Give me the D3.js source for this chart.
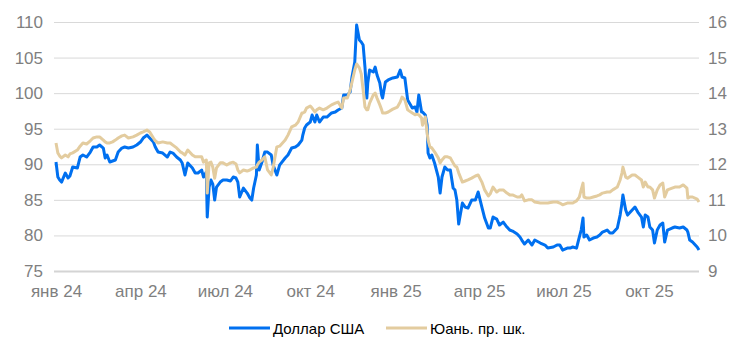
<!DOCTYPE html>
<html><head><meta charset="utf-8">
<script src="https://cdn.jsdelivr.net/npm/d3@7"></script>
<style>
html,body{margin:0;padding:0;background:#fff;}
svg{display:block;font-family:"Liberation Sans",Arial,sans-serif;}
</style></head>
<body><svg id="c" width="746" height="355"></svg>
<script>
const dates = ["2024-01-01","2024-01-03","2024-01-05","2024-01-07","2024-01-11","2024-01-14","2024-01-16","2024-01-19","2024-01-24","2024-01-27","2024-01-30","2024-02-03","2024-02-07","2024-02-10","2024-02-14","2024-02-17","2024-02-21","2024-02-23","2024-02-25","2024-02-28","2024-03-02","2024-03-05","2024-03-08","2024-03-12","2024-03-15","2024-03-19","2024-03-24","2024-03-28","2024-04-01","2024-04-04","2024-04-08","2024-04-11","2024-04-15","2024-04-17","2024-04-20","2024-04-25","2024-04-30","2024-05-03","2024-05-06","2024-05-10","2024-05-14","2024-05-16","2024-05-19","2024-05-22","2024-05-27","2024-05-30","2024-06-02","2024-06-06","2024-06-08","2024-06-11","2024-06-12","2024-06-14","2024-06-16","2024-06-18","2024-06-20","2024-06-22","2024-06-26","2024-06-29","2024-07-03","2024-07-07","2024-07-10","2024-07-13","2024-07-15","2024-07-17","2024-07-21","2024-07-25","2024-07-28","2024-07-30","2024-08-01","2024-08-04","2024-08-05","2024-08-07","2024-08-10","2024-08-13","2024-08-16","2024-08-20","2024-08-22","2024-08-26","2024-08-29","2024-09-04","2024-09-07","2024-09-11","2024-09-15","2024-09-18","2024-09-22","2024-09-23","2024-09-25","2024-09-27","2024-10-01","2024-10-03","2024-10-06","2024-10-08","2024-10-11","2024-10-15","2024-10-19","2024-10-24","2024-10-28","2024-10-31","2024-11-04","2024-11-06","2024-11-10","2024-11-13","2024-11-15","2024-11-18","2024-11-20","2024-11-23","2024-11-25","2024-11-27","2024-11-29","2024-12-01","2024-12-02","2024-12-04","2024-12-08","2024-12-10","2024-12-12","2024-12-15","2024-12-17","2024-12-18","2024-12-21","2024-12-24","2024-12-29","2025-01-03","2025-01-06","2025-01-08","2025-01-11","2025-01-14","2025-01-19","2025-01-22","2025-01-24","2025-01-26","2025-01-29","2025-01-30","2025-02-02","2025-02-04","2025-02-05","2025-02-07","2025-02-09","2025-02-12","2025-02-16","2025-02-18","2025-02-20","2025-02-23","2025-02-26","2025-03-01","2025-03-04","2025-03-06","2025-03-08","2025-03-10","2025-03-14","2025-03-17","2025-03-20","2025-03-24","2025-03-28","2025-03-31","2025-04-04","2025-04-07","2025-04-11","2025-04-13","2025-04-16","2025-04-20","2025-04-23","2025-04-27","2025-05-01","2025-05-04","2025-05-07","2025-05-12","2025-05-15","2025-05-17","2025-05-20","2025-05-24","2025-05-28","2025-05-31","2025-06-06","2025-06-11","2025-06-14","2025-06-20","2025-06-24","2025-06-27","2025-06-30","2025-07-05","2025-07-08","2025-07-11","2025-07-15","2025-07-18","2025-07-20","2025-07-22","2025-07-23","2025-07-26","2025-07-29","2025-08-02","2025-08-06","2025-08-09","2025-08-12","2025-08-17","2025-08-20","2025-08-23","2025-08-28","2025-08-31","2025-09-02","2025-09-03","2025-09-06","2025-09-08","2025-09-13","2025-09-16","2025-09-19","2025-09-23","2025-09-25","2025-09-27","2025-09-30","2025-10-02","2025-10-05","2025-10-07","2025-10-10","2025-10-13","2025-10-16","2025-10-18","2025-10-21","2025-10-26","2025-10-29","2025-11-03","2025-11-07","2025-11-11","2025-11-12","2025-11-14","2025-11-17","2025-11-22","2025-11-24"];

const usd = [90.32,88.21,87.79,87.50,88.77,88.07,88.35,89.61,89.47,91.02,91.30,91.02,91.72,92.43,92.43,92.71,92.28,90.88,91.30,90.32,90.46,90.60,91.72,92.28,92.43,92.28,92.43,92.71,93.13,93.69,94.11,93.69,93.13,92.43,91.72,91.58,91.02,91.72,91.58,91.02,90.60,90.18,88.49,90.18,89.47,88.77,88.77,89.19,88.21,88.91,82.58,86.80,87.79,87.22,84.97,86.80,87.50,87.79,87.79,87.65,88.21,88.07,87.50,85.40,86.66,85.96,85.25,84.97,86.66,88.49,92.71,89.19,90.32,91.72,91.72,91.30,89.89,88.49,89.89,90.88,91.30,92.28,92.43,92.71,93.41,94.11,95.10,95.52,95.94,96.92,95.94,96.92,95.94,96.64,96.64,97.21,97.35,97.63,97.91,99.74,99.74,100.16,102.27,104.38,109.58,107.47,107.19,106.77,103.67,99.31,101.42,103.25,102.97,103.67,102.55,101.42,99.74,99.31,101.56,101.85,102.13,102.27,103.25,102.27,102.13,99.03,97.91,98.05,97.35,99.74,97.35,97.35,96.92,95.52,91.58,90.88,91.30,90.18,88.21,85.96,88.21,89.61,89.19,89.19,86.66,86.38,84.97,81.60,84.55,83.99,83.85,84.97,84.97,86.10,83.99,82.44,81.04,81.04,82.58,82.30,81.46,81.88,81.18,80.76,80.61,80.19,79.77,79.35,78.79,79.35,78.65,79.35,78.93,78.65,78.22,78.37,78.65,78.65,77.94,78.22,78.22,78.37,78.22,79.77,80.76,82.44,79.77,80.05,79.35,79.63,79.77,80.05,80.47,80.76,80.33,80.33,81.04,82.86,84.55,85.68,83.57,82.86,83.57,83.99,83.29,82.58,81.18,82.86,82.58,81.18,80.76,78.93,80.76,81.46,81.74,79.07,80.76,81.04,81.18,81.04,81.18,80.76,80.47,79.35,79.07,78.37,77.94];

const cny = [12.60,12.32,12.23,12.18,12.26,12.21,12.29,12.32,12.40,12.51,12.60,12.57,12.66,12.74,12.77,12.77,12.68,12.63,12.60,12.60,12.63,12.68,12.74,12.80,12.82,12.74,12.77,12.82,12.88,12.91,12.96,12.91,12.74,12.66,12.60,12.63,12.60,12.60,12.54,12.46,12.35,12.32,12.26,12.40,12.26,12.21,12.21,12.21,12.06,12.12,11.19,12.04,12.06,11.92,11.61,11.90,12.04,12.04,11.98,12.04,12.06,12.01,11.84,11.76,11.84,11.81,11.84,11.87,11.90,11.92,11.98,12.06,12.12,12.21,11.84,11.70,11.90,12.49,12.51,12.68,12.82,13.05,13.10,13.19,13.44,13.44,13.47,13.58,13.64,13.58,13.47,13.53,13.58,13.53,13.58,13.67,13.72,13.75,13.58,13.86,13.86,14.09,14.31,14.65,14.82,14.71,14.54,14.09,13.61,13.53,13.53,13.72,13.95,14.00,13.86,13.67,13.53,13.44,13.44,13.47,13.55,13.61,13.75,13.89,13.81,13.53,13.44,13.39,13.41,13.39,13.30,13.10,13.33,12.88,12.68,12.49,12.46,12.35,12.18,12.04,12.12,12.21,12.21,12.18,12.04,11.95,11.92,11.76,11.50,11.53,11.56,11.61,11.67,11.70,11.50,11.28,11.11,11.17,11.36,11.22,11.28,11.28,11.19,11.14,11.14,11.08,11.08,11.14,10.97,11.00,11.00,10.94,10.91,10.91,10.91,10.94,10.94,10.91,10.86,10.91,10.91,10.91,10.97,11.08,11.28,11.47,11.08,11.05,11.05,11.08,11.11,11.14,11.19,11.22,11.22,11.28,11.36,11.56,11.76,11.92,11.64,11.61,11.70,11.70,11.64,11.56,11.36,11.50,11.36,11.36,11.28,11.05,11.28,11.42,11.47,11.08,11.28,11.33,11.36,11.36,11.42,11.33,11.05,11.08,11.08,11.02,10.94];

const tickDates = ["2024-01-01","2024-04-01","2024-07-01","2024-10-01","2025-01-01","2025-04-01","2025-07-01","2025-10-01"];
const tickLabels = ["янв 24","апр 24","июл 24","окт 24","янв 25","апр 25","июл 25","окт 25"];
const leftTicks = [75,80,85,90,95,100,105,110];
const rightTicks = [9,10,11,12,13,14,15,16];
const seriesNames = ["Доллар США","Юань. пр. шк."];
const colors = ["#0070f0","#e3cc9f"];

const parse = d3.timeParse("%Y-%m-%d");
const svg = d3.select("#c");
const x = d3.scaleTime().domain([parse("2024-01-01"), parse("2025-11-24")]).range([56, 699]);
const yL = d3.scaleLinear().domain([75,110]).range([271,22]);
const yR = d3.scaleLinear().domain([9,16]).range([271,22]);
const FONT = "Liberation Sans, Arial, sans-serif";

// gridlines
const grid = svg.append("g").attr("transform","translate(699,0)")
  .call(d3.axisLeft(yL).tickValues(leftTicks).tickSize(645).tickFormat(""));
grid.select(".domain").remove();
grid.selectAll("line").attr("stroke","#d9d9d9").attr("stroke-width",1);
grid.selectAll(".tick").filter(d=>d===75).select("line").attr("stroke","#d4d4d4").attr("stroke-width",2);

const fs = "17px", tc = "#7f7f7f";
const gl = svg.append("g").attr("transform","translate(45,0)")
  .call(d3.axisLeft(yL).tickValues(leftTicks).tickSize(0).tickPadding(2).tickFormat(d3.format("d")));
gl.select(".domain").remove();
gl.selectAll("text").attr("font-size",fs).attr("fill",tc).attr("font-family",FONT);

const gr = svg.append("g").attr("transform","translate(706,0)")
  .call(d3.axisRight(yR).tickValues(rightTicks).tickSize(0).tickPadding(2).tickFormat(d3.format("d")));
gr.select(".domain").remove();
gr.selectAll("text").attr("font-size",fs).attr("fill",tc).attr("font-family",FONT);

const gb = svg.append("g").attr("transform","translate(0,0)")
  .call(d3.axisBottom(x).tickValues(tickDates.map(parse)).tickSize(0)
    .tickFormat((d,i)=>tickLabels[i]));
gb.select(".domain").remove();
gb.selectAll("text").attr("y",297).attr("dy",null)
  .attr("font-size",fs).attr("fill",tc).attr("font-family",FONT);

// lines
const pts = dates.map(parse);
const lineU = d3.line().x((d,i)=>x(pts[i])).y(d=>yL(d));
const lineC = d3.line().x((d,i)=>x(pts[i])).y(d=>yR(d));
svg.append("path").datum(usd).attr("d",lineU).attr("fill","none").attr("stroke",colors[0])
  .attr("stroke-width",3).attr("stroke-linejoin","round");
svg.append("path").datum(cny).attr("d",lineC).attr("fill","none").attr("stroke",colors[1])
  .attr("stroke-width",3).attr("stroke-linejoin","round");

// legend
const leg = [{x1:229,x2:270,tx:273},{x1:386,x2:427,tx:430}];
leg.forEach((l,i)=>{
  svg.append("line").attr("x1",l.x1).attr("x2",l.x2).attr("y1",328).attr("y2",328)
    .attr("stroke",colors[i]).attr("stroke-width",3);
  svg.append("text").attr("x",l.tx).attr("y",333.5).attr("font-size","15px").attr("fill","#000")
    .attr("font-family",FONT).text(seriesNames[i]);
});
</script></body></html>
